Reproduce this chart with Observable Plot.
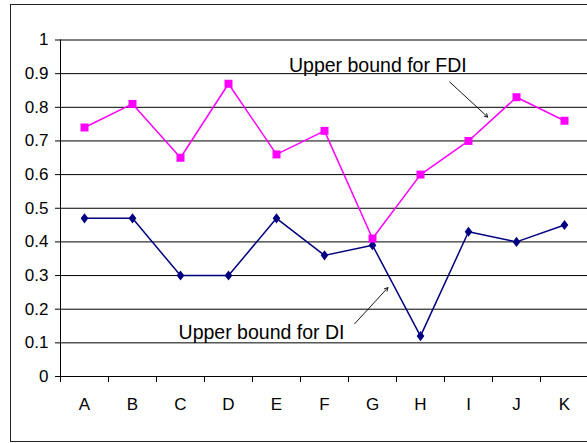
<!DOCTYPE html>
<html><head><meta charset="utf-8">
<script src="https://cdn.jsdelivr.net/npm/d3@7"></script>
<script src="https://cdn.jsdelivr.net/npm/@observablehq/plot@0.6"></script>
<style>
html,body{margin:0;padding:0;background:#fff;overflow:hidden;width:587px;height:443px;}
#wrap{position:relative;width:587px;height:443px;overflow:hidden;}
#frame{position:absolute;left:10px;top:4px;width:640px;height:438px;border:1.5px solid #222;box-sizing:border-box;}
#chart{position:absolute;left:0;top:0;}
</style></head><body>
<div id="wrap"><div id="frame"></div><div id="chart"></div></div>
<script>
const categories = ["A","B","C","D","E","F","G","H","I","J","K"];
const fdiValues = [0.74,0.81,0.65,0.87,0.66,0.73,0.41,0.60,0.70,0.83,0.76];
const diValues  = [0.47,0.47,0.30,0.30,0.47,0.36,0.39,0.12,0.43,0.40,0.45];
const yTicks = [0,0.1,0.2,0.3,0.4,0.5,0.6,0.7,0.8,0.9,1];
const yTickLabels = ["0","0.1","0.2","0.3","0.4","0.5","0.6","0.7","0.8","0.9","1"];

const fdi = categories.map((c,i)=>({i, cat:c, v:fdiValues[i]}));
const di  = categories.map((c,i)=>({i, cat:c, v:diValues[i]}));
const bandEdges = categories.map((c,i)=>i-0.5).concat([categories.length-0.5]);
const catIdx = categories.map((c,i)=>i);

const labels = [
  {text:"Upper bound for FDI", x:4.26, y:0.922},
  {text:"Upper bound for DI",  x:1.96, y:0.130}
];
const arrows = [
  {x1:7.61, y1:0.875, x2:8.40, y2:0.771},
  {x1:5.63, y1:0.157, x2:6.32, y2:0.264}
];

const diamond = {
  draw(ctx, size){
    const r = Math.sqrt(size/Math.PI);
    const hh = r*1.12, hw = r*0.85;
    ctx.moveTo(0,-hh); ctx.lineTo(hw,0); ctx.lineTo(0,hh); ctx.lineTo(-hw,0); ctx.closePath();
  }
};

const plot = Plot.plot({
  width: 587,
  height: 443,
  marginLeft: 60, marginTop: 39, marginBottom: 67, marginRight: 0,
  style: {fontFamily: "'Liberation Sans', Arial, sans-serif", fontSize: "17px", color: "#000", background: "transparent"},
  x: {type: "linear", domain: [-0.5, categories.length-0.5], range: [60, 588]},
  y: {domain: [0, 1], range: [376, 39.5]},
  marks: [
    Plot.ruleY(yTicks, {stroke: "#000", strokeWidth: 1}),
    Plot.ruleX([-0.5], {y1: 0, y2: 1, stroke: "#000", strokeWidth: 1}),
    Plot.axisY({ticks: yTicks, tickFormat: (d,i)=>yTickLabels[yTicks.indexOf(d)], tickSize: 5, tickPadding: 7, label: null, fontSize: 17}),
    Plot.axisX({ticks: bandEdges, tickFormat: ()=>"", tickSize: 6, label: null}),
    Plot.axisX({ticks: catIdx, tickFormat: d=>categories[d], tickSize: 0, tickPadding: 21, label: null, fontSize: 17}),
    Plot.line(di, {x: "i", y: "v", stroke: "#000080", strokeWidth: 1.5}),
    Plot.dot(di, {x: "i", y: "v", symbol: diamond, r: 4.5, fill: "#000080", stroke: "none"}),
    Plot.line(fdi, {x: "i", y: "v", stroke: "#FF00FF", strokeWidth: 1.5}),
    Plot.dot(fdi, {x: "i", y: "v", symbol: "square", r: 4.5, fill: "#FF00FF", stroke: "none"}),
    Plot.text(labels, {x: "x", y: "y", text: "text", textAnchor: "start", lineAnchor: "middle", fontSize: 19.5, fill: "#000"}),
    Plot.arrow(arrows, {x1: "x1", y1: "y1", x2: "x2", y2: "y2", stroke: "#000", strokeWidth: 0.9, headLength: 6})
  ]
});
document.getElementById("chart").appendChild(plot);
</script>
</body></html>
